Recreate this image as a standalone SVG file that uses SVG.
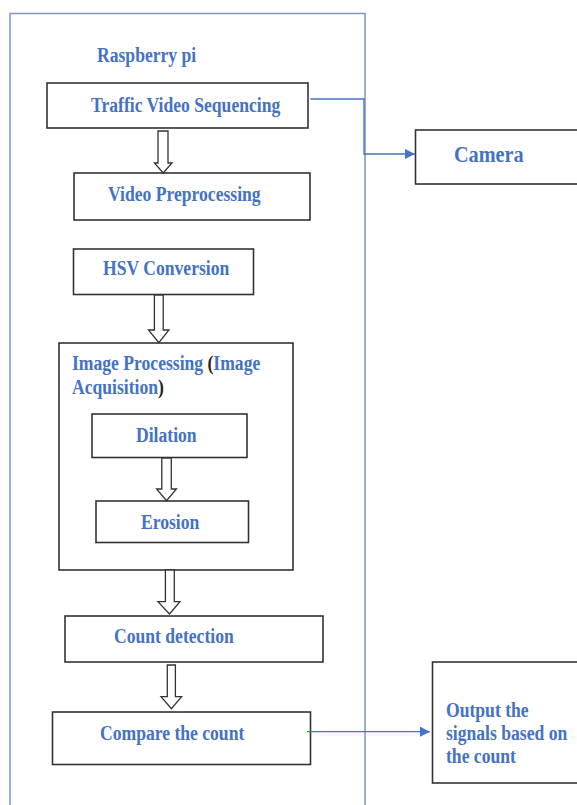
<svg xmlns="http://www.w3.org/2000/svg" width="577" height="805" viewBox="0 0 577 805">
<style>
.frame{fill:none;stroke:#7f96c0;stroke-width:1.5}
.box{fill:#fff;stroke:#333;stroke-width:1.6}
.harrow{fill:#fff;stroke:#333;stroke-width:1.3;stroke-linejoin:miter}
.lbl{font-family:"Liberation Serif","Times New Roman",serif;font-weight:bold;font-size:20px;fill:#4472c4}
.blk{fill:#222}
.conn{fill:none;stroke:#4472c4;stroke-width:1.3}
</style>
<defs>
<marker id="ah" viewBox="0 0 10 10" refX="10" refY="5" markerWidth="10" markerHeight="10" markerUnits="userSpaceOnUse" orient="auto">
<path d="M0,0 L10,5 L0,10 Z" fill="#4472c4"/>
</marker>
</defs>
<rect width="577" height="805" fill="#fff"/>
<g id="raspberry-pi">
<path class="frame" d="M10,806 V13.5 H365 V806"/>
<text class="lbl" transform="translate(97,62) scale(0.88,1)">Raspberry pi</text>
</g>
<g id="traffic-video">
<rect class="box" x="47" y="83" width="261" height="45"/>
<text class="lbl" transform="translate(91,111.5) scale(0.88,1)">Traffic Video Sequencing</text>
</g>
<g id="video-preprocessing">
<rect class="box" x="74" y="173" width="236" height="47"/>
<text class="lbl" transform="translate(108,201) scale(0.88,1)">Video Preprocessing</text>
</g>
<g id="hsv">
<rect class="box" x="73.5" y="249" width="180" height="45.5"/>
<text class="lbl" transform="translate(103,275) scale(0.88,1)">HSV Conversion</text>
</g>
<g id="image-processing">
<rect class="box" x="59" y="343" width="234" height="227"/>
<text class="lbl" transform="translate(72,370) scale(0.88,1)">Image Processing <tspan class="blk">(</tspan>Image</text>
<text class="lbl" transform="translate(72,394) scale(0.88,1)">Acquisition<tspan class="blk">)</tspan></text>
</g>
<g id="dilation">
<rect class="box" x="92" y="414" width="155" height="43.5"/>
<text class="lbl" transform="translate(136,441.5) scale(0.88,1)">Dilation</text>
</g>
<g id="erosion">
<rect class="box" x="96" y="501" width="152.5" height="41.5"/>
<text class="lbl" transform="translate(141,528.5) scale(0.88,1)">Erosion</text>
</g>
<g id="count-detection">
<rect class="box" x="65" y="616" width="258" height="46"/>
<text class="lbl" transform="translate(114,642.5) scale(0.88,1)">Count detection</text>
</g>
<g id="compare">
<rect class="box" x="52.5" y="712" width="258" height="52.5"/>
<text class="lbl" transform="translate(100,739.5) scale(0.88,1)">Compare the count</text>
</g>
<g id="camera">
<rect class="box" x="415.5" y="130" width="163" height="54"/>
<text class="lbl" style="font-size:23px" transform="translate(454,162) scale(0.88,1)">Camera</text>
</g>
<g id="output">
<rect class="box" x="432.5" y="662" width="146" height="121"/>
<text class="lbl" transform="translate(446,716.5) scale(0.88,1)">Output the</text>
<text class="lbl" transform="translate(446,740) scale(0.88,1)">signals based on</text>
<text class="lbl" transform="translate(446,763) scale(0.88,1)">the count</text>
</g>
<g id="connectors">
<polygon class="harrow" points="158,131 168,131 168,163 172,163 163.2,173 154.4,163 158,163"/>
<polygon class="harrow" points="154.4,295 163.2,295 163.2,330 169,330 158.8,342.7 148.5,330 154.4,330"/>
<polygon class="harrow" points="161.8,458 171.3,458 171.3,489 176.5,489 166.5,500.7 156.6,489 161.8,489"/>
<polygon class="harrow" points="165.4,570 174.3,570 174.3,601.7 180,601.7 169.5,614 158,601.7 165.4,601.7"/>
<polygon class="harrow" points="167.3,665 175.4,665 175.4,696.7 181.6,696.7 171.4,708.7 161,696.7 167.3,696.7"/>
<path class="conn" d="M310.5,99 H364 V154 H415" marker-end="url(#ah)"/>
<path class="conn" d="M307,731.7 H430" marker-end="url(#ah)"/>
</g>
</svg>
